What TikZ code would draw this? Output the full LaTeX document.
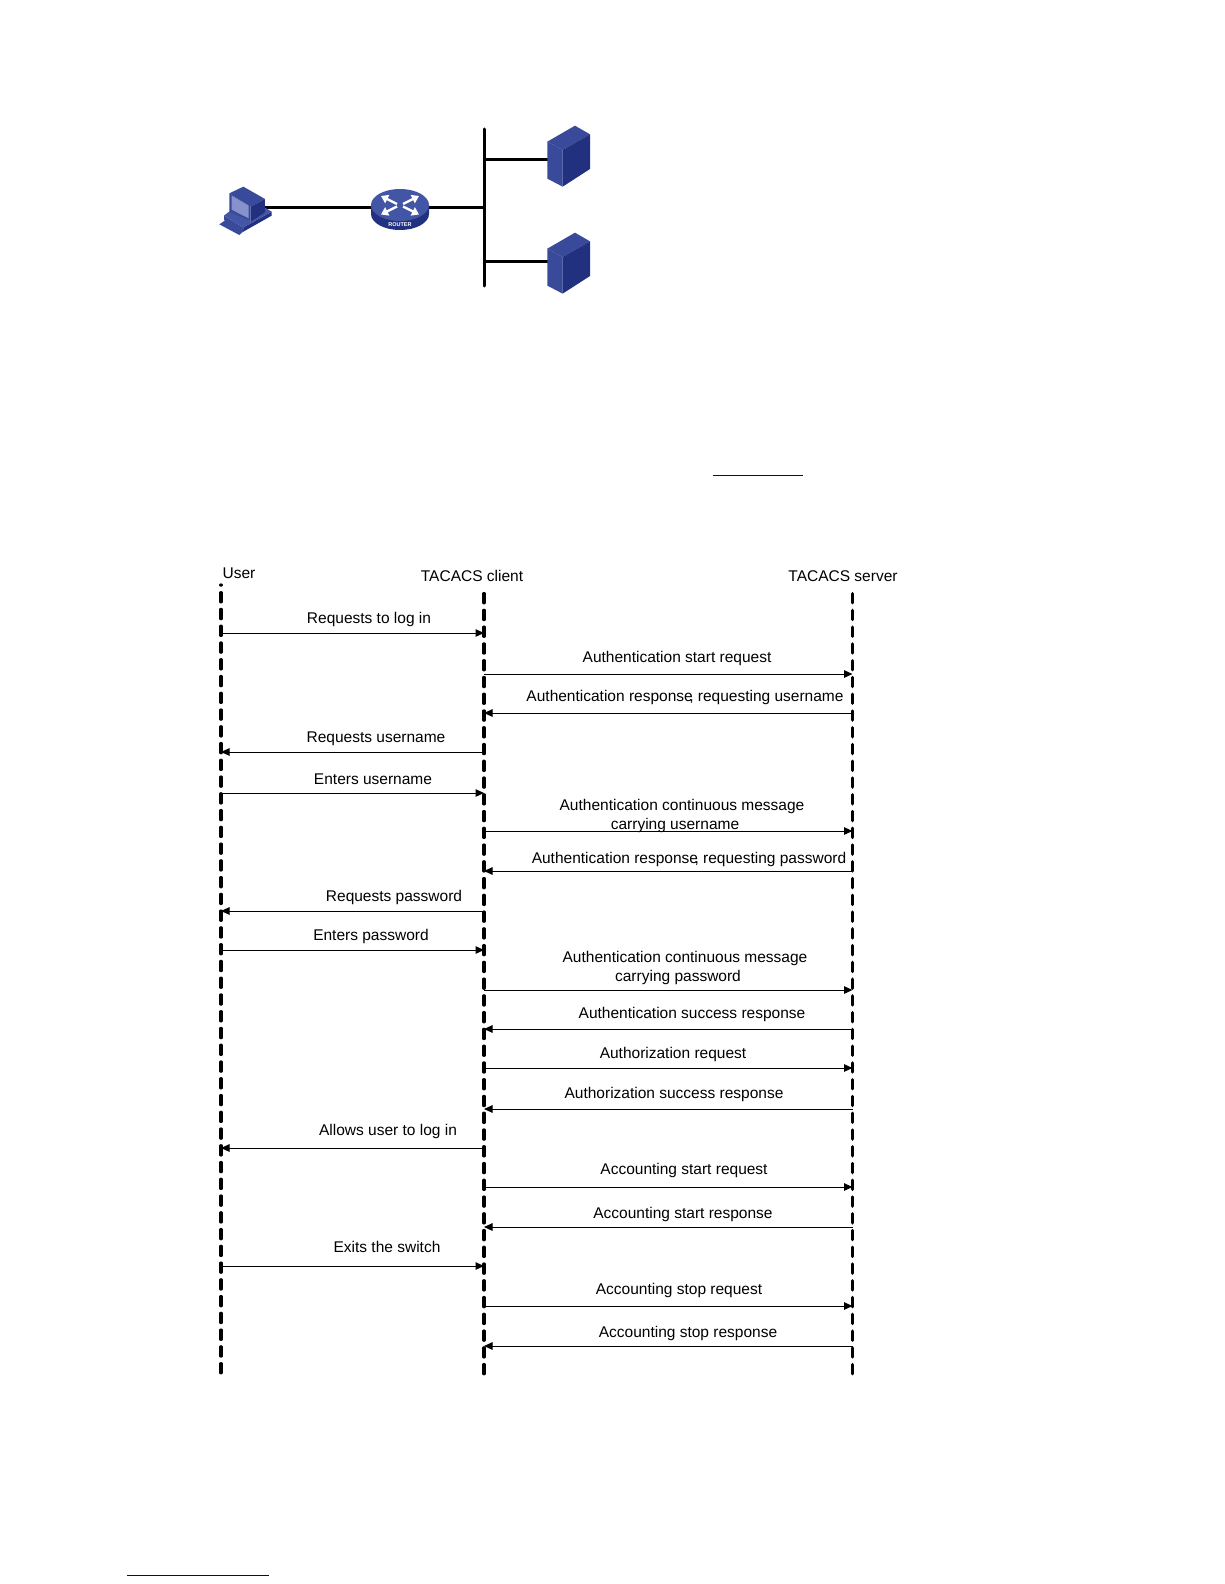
\documentclass[tikz,border=0pt]{standalone}
\usepackage{fontspec}
\setmainfont{Liberation Sans}
\usetikzlibrary{arrows.meta,shapes.geometric}
\definecolor{iconlight}{HTML}{4355A5}
\definecolor{icondark}{HTML}{22317F}
\definecolor{iconmid}{HTML}{3A4A9A}
\definecolor{iconpale}{HTML}{8592CC}
\definecolor{linkblue}{HTML}{0000A0}

\tikzset{
  serverbox/.pic={
    \fill[iconmid] (22,65) -- (68,90) -- (68,200) -- (22,176) -- cycle;
    \fill[iconmid] (22,65) -- (105,17) -- (150,43) -- (68,90) -- cycle;
    \fill[icondark] (68,90) -- (150,43) -- (150,147) -- (68,200) -- cycle;
  }
}

\begin{document}
\begin{tikzpicture}[
  x=1pt,y=-1pt,
  lifeline/.style={line width=3.3pt,line cap=round,dash pattern=on 9.2pt off 7.56pt},
  msg/.style={-{Triangle[length=8.5pt,width=7.5pt]},line width=1pt},
  lbl/.style={font=\fontsize{15.5}{18}\selectfont,inner sep=0pt,text height=14pt,text depth=2pt},
  link/.style={line width=3pt},
  uline/.style={line width=1pt,linkblue},
  routerarrow/.style={-{Triangle[length=7pt,width=9pt]},white,line width=2.4pt}
]
\useasboundingbox[fill=white] (0,0) rectangle (1224,1584);

% network
\coordinate (pcport) at (262,207);
\coordinate (routerW) at (380,207);
\coordinate (routerE) at (420,207);
\coordinate (busjoin) at (484,207);
\coordinate (bustop) at (484,129);
\coordinate (busbot) at (484,286);
\coordinate (busA) at (484,159);
\coordinate (busB) at (484,261);
\coordinate (serverA) at (550,159);
\coordinate (serverB) at (550,261);
\draw[link] (pcport) -- (routerW);
\draw[link] (routerE) -- (busjoin);
\draw[link,line cap=round] (bustop) -- (busbot);
\draw[link] (busA) -- (serverA);
\draw[link] (busB) -- (serverB);

% pc
\begin{scope}[shift={(210,175)},x=0.3333pt,y=-0.3333pt]
\fill[iconmid] (28,148) -- (50,133) -- (105,165) -- (88,180) -- cycle;
\fill[iconmid] (42,122) -- (100,157) -- (100,170) -- (42,135) -- cycle;
\fill[icondark] (100,157) -- (185,110) -- (185,122) -- (100,170) -- cycle;
\fill[iconlight] (42,122) -- (60,108) -- (122,140) -- (160,95) -- (185,110) -- (100,157) -- cycle;
\fill[iconmid] (58,55) -- (100,35) -- (165,72) -- (122,95) -- cycle;
\fill[icondark] (122,95) -- (165,72) -- (165,112) -- (122,140) -- cycle;
\fill[iconmid] (58,55) -- (122,95) -- (122,140) -- (58,110) -- cycle;
\fill[iconpale] (65,62) -- (116,92) -- (116,130) -- (65,104) -- cycle;
\end{scope}

% router
\fill[icondark] (371,205) -- (371,214) arc[start angle=180,end angle=360,x radius=29pt,y radius=16pt] -- (429,205) -- cycle;
\node[ellipse,fill=iconlight,minimum width=58pt,minimum height=32pt,inner sep=0pt] (router) at (400,205) {};
\draw[routerarrow] (397,204) -- (381,196);
\draw[routerarrow] (403,204) -- (419,196);
\draw[routerarrow] (397,206.5) -- (381,214.5);
\draw[routerarrow] (403,206.5) -- (419,214.5);
\node[font=\fontsize{5.5}{6}\bfseries\selectfont,text=white,inner sep=0pt] (routertext) at (400,225) {ROUTER};

% servers
\begin{scope}[shift={(540,120)},x=0.3333pt,y=-0.3333pt]
\pic (srvA) {serverbox};
\end{scope}
\begin{scope}[shift={(540,227)},x=0.3333pt,y=-0.3333pt]
\pic (srvB) {serverbox};
\end{scope}

% link underlines
\coordinate (ulineAa) at (713,475);
\coordinate (ulineAb) at (803,475);
\coordinate (ulineBa) at (127,1575);
\coordinate (ulineBb) at (269,1575);
\draw[uline] (ulineAa) -- (ulineAb);
\draw[uline] (ulineBa) -- (ulineBb);

% lifelines
\node[lbl] (user) at (239,572) {User};
\node[lbl] (client) at (472,575) {TACACS client};
\node[lbl] (server) at (843,575) {TACACS server};
\coordinate (usertop) at (221,585);
\coordinate (userbot) at (221,1372.8);
\coordinate (clienttop) at (484,593.6);
\coordinate (clientbot) at (484,1373.8);
\coordinate (servertop) at (852.5,593.6);
\coordinate (serverbot) at (852.5,1373.8);
\draw[lifeline,dash phase=9.1pt] (usertop) -- (userbot);
\draw[lifeline] (clienttop) -- (clientbot);
\draw[lifeline] (servertop) -- (serverbot);

% messages
\coordinate (u1) at (221,633);   \coordinate (c1) at (484,633);
\coordinate (c2) at (484,674);   \coordinate (s2) at (852.5,674);
\coordinate (c3) at (484,713);   \coordinate (s3) at (852.5,713);
\coordinate (u4) at (221,752);   \coordinate (c4) at (484,752);
\coordinate (u5) at (221,793);   \coordinate (c5) at (484,793);
\coordinate (c6) at (484,831);   \coordinate (s6) at (852.5,831);
\coordinate (c7) at (484,871);   \coordinate (s7) at (852.5,871);
\coordinate (u8) at (221,911);   \coordinate (c8) at (484,911);
\coordinate (u9) at (221,950);   \coordinate (c9) at (484,950);
\coordinate (c10) at (484,990);  \coordinate (s10) at (852.5,990);
\coordinate (c11) at (484,1029); \coordinate (s11) at (852.5,1029);
\coordinate (c12) at (484,1068); \coordinate (s12) at (852.5,1068);
\coordinate (c13) at (484,1109); \coordinate (s13) at (852.5,1109);
\coordinate (u14) at (221,1148); \coordinate (c14) at (484,1148);
\coordinate (c15) at (484,1187); \coordinate (s15) at (852.5,1187);
\coordinate (c16) at (484,1227); \coordinate (s16) at (852.5,1227);
\coordinate (u17) at (221,1266); \coordinate (c17) at (484,1266);
\coordinate (c18) at (484,1306); \coordinate (s18) at (852.5,1306);
\coordinate (c19) at (484,1346); \coordinate (s19) at (852.5,1346);

\draw[msg] (u1) -- (c1);
\draw[msg] (c2) -- (s2);
\draw[msg] (s3) -- (c3);
\draw[msg] (c4) -- (u4);
\draw[msg] (u5) -- (c5);
\draw[msg] (c6) -- (s6);
\draw[msg] (s7) -- (c7);
\draw[msg] (c8) -- (u8);
\draw[msg] (u9) -- (c9);
\draw[msg] (c10) -- (s10);
\draw[msg] (s11) -- (c11);
\draw[msg] (c12) -- (s12);
\draw[msg] (s13) -- (c13);
\draw[msg] (c14) -- (u14);
\draw[msg] (c15) -- (s15);
\draw[msg] (s16) -- (c16);
\draw[msg] (u17) -- (c17);
\draw[msg] (c18) -- (s18);
\draw[msg] (s19) -- (c19);

\node[lbl] (t1) at (369,617) {Requests to log in};
\node[lbl] (t2) at (677,656.5) {Authentication start request};
\node[lbl] (t3) at (685,695) {Authentication response\kern-3.5pt, requesting username};
\node[lbl] (t4) at (376,736) {Requests username};
\node[lbl] (t5) at (373,778) {Enters username};
\node[lbl] (t6) at (682,804) {Authentication continuous message};
\node[lbl] (t6b) at (675,823) {carrying username};
\node[lbl] (t7) at (689,857) {Authentication response\kern-3.5pt, requesting password};
\node[lbl] (t8) at (394,895) {Requests password};
\node[lbl] (t9) at (371,934) {Enters password};
\node[lbl] (t10) at (685,956) {Authentication continuous message};
\node[lbl] (t10b) at (678,975) {carrying password};
\node[lbl] (t11) at (692,1012) {Authentication success response};
\node[lbl] (t12) at (673,1052) {Authorization request};
\node[lbl] (t13) at (674,1092) {Authorization success response};
\node[lbl] (t14) at (388,1129) {Allows user to log in};
\node[lbl] (t15) at (684,1168) {Accounting start request};
\node[lbl] (t16) at (683,1212) {Accounting start response};
\node[lbl] (t17) at (387,1246) {Exits the switch};
\node[lbl] (t18) at (679,1288) {Accounting stop request};
\node[lbl] (t19) at (688,1331) {Accounting stop response};
\end{tikzpicture}
\end{document}
